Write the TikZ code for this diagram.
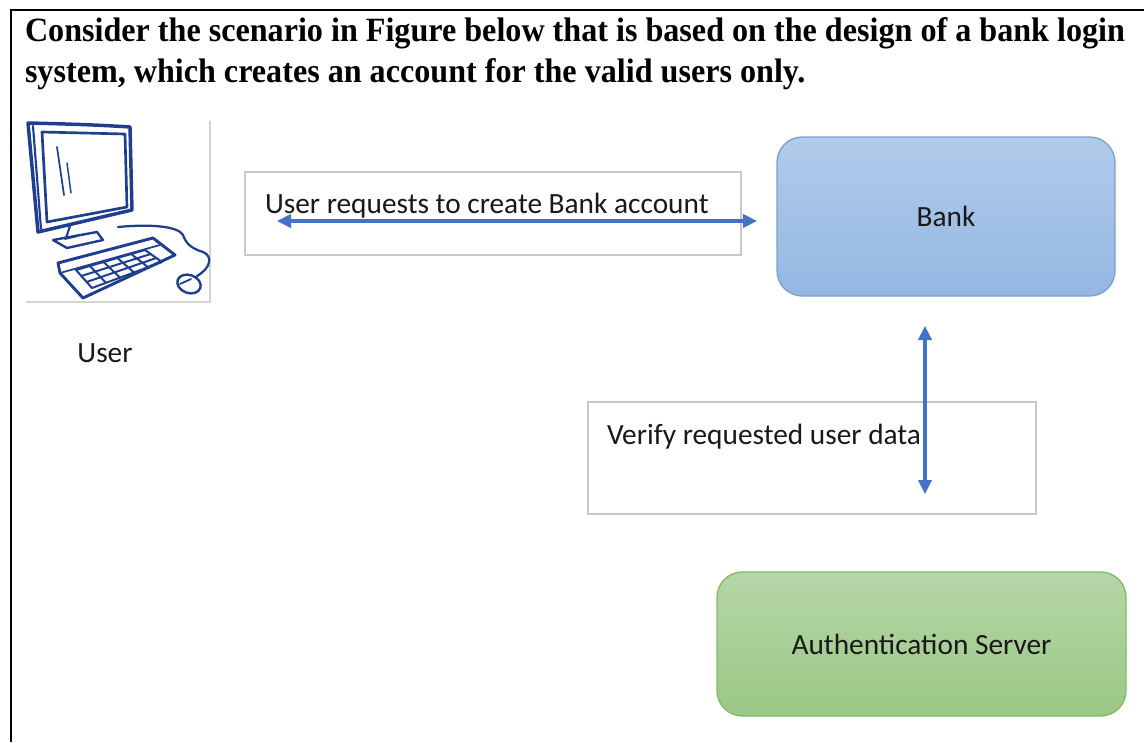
\documentclass[tikz,border=0pt]{standalone}
\usepackage{fontspec}
\setmainfont{Carlito}
\newfontfamily\titlefont[FakeStretch=0.945]{Liberation Serif}
\usetikzlibrary{arrows.meta,calc}

\definecolor{arrowblue}{HTML}{4472C4}
\definecolor{bankTop}{HTML}{B1CBEA}
\definecolor{bankBot}{HTML}{94B7E2}
\definecolor{bankLine}{HTML}{7AA0D2}
\definecolor{authTop}{HTML}{B6D6A8}
\definecolor{authBot}{HTML}{9AC884}
\definecolor{authLine}{HTML}{84BA66}
\definecolor{iconblue}{HTML}{1F3F8E}
\definecolor{labelgray}{HTML}{C8C8C8}
\definecolor{framegray}{HTML}{D4D4D4}

\tikzset{
  every node/.style={inner sep=0pt, outer sep=0pt},
  body/.style={font=\fontsize{22}{26}\selectfont, text=black!90},
  titletext/.style={font=\titlefont\bfseries\fontsize{25.5}{29}\selectfont, anchor=base west},
  labelbox/.style={draw=labelgray, line width=0.8pt, fill=white},
  roundbox/.style={rounded corners=19pt, line width=1pt, body},
  bankbox/.style={roundbox, draw=bankLine, top color=bankTop, bottom color=bankBot},
  authbox/.style={roundbox, draw=authLine, top color=authTop, bottom color=authBot},
  link/.style={draw=arrowblue, line width=2.3pt,
    {Triangle[length=10.5pt,width=10pt]}-{Triangle[length=10.5pt,width=10pt]}},
  iconline/.style={draw=iconblue, line cap=round, line join=round},
}

\begin{document}
\begin{tikzpicture}[x=0.75pt,y=-0.75pt]
  \useasboundingbox (0,0) rectangle (1144,742);
  \fill[white] (0,0) rectangle (1144,742);

  % page frame: top and left rules
  \draw[line width=1.6pt] (1144,10) -- (11,10) -- (11,742);

  % heading
  \node[titletext] (head1) at (25,41)
    {Consider the scenario in Figure below that is based on the design of a bank login};
  \node[titletext] (head2) at (25,83)
    {system, which creates an account for the valid users only.};

  % ---- user workstation icon ----
  \draw[framegray, line width=0.8pt] (26,302) -- (210,302) -- (210,121);
  % monitor housing
  \draw[iconline, line width=2.6pt] (28,123) .. controls (70,124) and (100,125) .. (130,127)
    -- (132,210) -- (38,232) -- cycle;
  \draw[iconline, line width=1.6pt] (33,126) -- (41,229);
  % screen
  \draw[iconline, line width=2pt] (42,132) -- (125,134) -- (127,207) -- (47,222) -- cycle;
  % reflections
  \draw[iconline, line width=1.3pt] (57,147) -- (64,195);
  \draw[iconline, line width=1.1pt] (67,163) -- (71,193);
  % stand
  \draw[iconline, line width=1.6pt] (70,226) -- (66,238);
  \draw[iconline, line width=1.8pt] (53,240) -- (97,232) -- (103,240) -- (67,248) -- cycle;
  \draw[iconline, line width=1.3pt] (65,239) -- (78,236);
  % cable and mouse
  \draw[iconline, line width=1.7pt] (118,227) .. controls (150,224) and (178,226) .. (183,235)
    .. controls (186,243) and (190,248) .. (203,252)
    .. controls (213,256) and (211,268) .. (197,276);
  \draw[iconline, line width=1.8pt, rotate around={-20:(189,284)}] (189,284) ellipse (12 and 9);
  \draw[iconline, line width=1.3pt] (180,284) -- (191,279);
  % keyboard
  \draw[iconline, line width=2.2pt] (58,263) -- (153,238) -- (175,255) -- (83,298) -- (60,273) -- cycle;
  \draw[iconline, line width=1.3pt] (60,273) -- (160,245);
  \coordinate (kA) at (76,270);
  \coordinate (kB) at (145,250);
  \coordinate (kC) at (162,262);
  \coordinate (kD) at (92,288);
  \foreach \i in {0,...,5}
    \draw[iconline, line width=1.5pt] ($(kA)!\i/5!(kB)$) -- ($(kD)!\i/5!(kC)$);
  \foreach \j in {0,...,3}
    \draw[iconline, line width=1.5pt] ($(kA)!\j/3!(kD)$) -- ($(kB)!\j/3!(kC)$);

  \node[body] (userlbl) at (105,353) {User};

  % ---- request label and link to the bank ----
  \node[labelbox, minimum width=496*0.75pt, minimum height=83*0.75pt] (reqbox) at (493,213.5) {};
  \node[body, anchor=base west] (reqtext) at (265,213) {User requests to create Bank account};

  \node[bankbox, minimum width=338*0.75pt, minimum height=159*0.75pt] (bank) at (946,216.5) {Bank};

  \coordinate (reqL) at (277,221);
  \coordinate (reqR) at ($(bank.west)+(-20,4.5)$);
  \draw[link] (reqL) -- (reqR);

  % ---- verification label and link ----
  \node[labelbox, minimum width=448*0.75pt, minimum height=112*0.75pt] (verbox) at (812,458) {};
  \node[body, anchor=base west] (vertext) at (607,444) {Verify requested user data};

  \node[authbox, minimum width=409*0.75pt, minimum height=144*0.75pt] (auth) at (921.5,644) {Authentication Server};

  \coordinate (verT) at (925,326);
  \coordinate (verB) at (925,494);
  \draw[link] (verT) -- (verB);
\end{tikzpicture}
\end{document}
